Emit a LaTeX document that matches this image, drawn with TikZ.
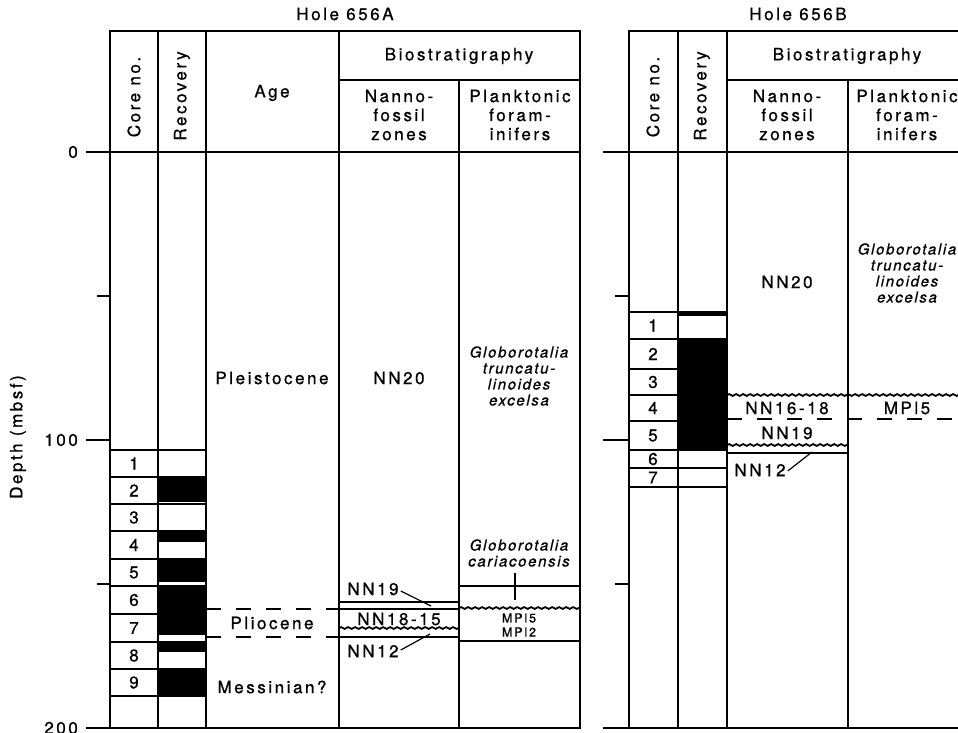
\documentclass[tikz,border=0pt]{standalone}
\usepackage{fontspec}
\setmainfont{TeX Gyre Heros}[LetterSpace=15, FakeBold=0.8]
\usetikzlibrary{decorations.pathmorphing}
\begin{document}
\begin{tikzpicture}[x=1pt,y=-1pt,
  frame/.style={line width=1.9pt},
  inner/.style={line width=1.6pt},
  lbl/.style={font=\fontsize{17}{19}\selectfont, inner sep=0pt, align=center},
  small/.style={font=\fontsize{12.5}{14}\selectfont, inner sep=0pt, align=center},
  itl/.style={font=\fontsize{15}{16}\selectfont\itshape\addfontfeatures{LetterSpace=11}, inner sep=0pt, align=center},
  wavy/.style={line width=1.8pt, decorate, decoration={snake, amplitude=0.9pt, segment length=7pt}},
  dashln/.style={line width=1.6pt, dash pattern=on 15pt off 15pt},
  blk/.style={fill=black, draw=none},
  ptr/.style={line width=1.2pt}]
\useasboundingbox (0,0) rectangle (958,733);
\fill[white] (0,0) rectangle (958,733);

% ---------- axis ----------
\draw[inner] (86,152) -- (110,152);
\draw[inner] (97,296) -- (110,296);
\draw[inner] (86,440) -- (110,440);
\draw[inner] (97,584) -- (110,584);
\draw[inner] (86,728) -- (110,728);
\node[lbl, anchor=east] (t0) at (78,152) {0};
\node[lbl, anchor=east] (t100) at (78,440) {100};
\node[lbl, anchor=east] (t200) at (78,728) {200};
\node[lbl, rotate=90] (depth) at (18,437) {Depth (mbsf)};

% ---------- Hole 656A ----------
\node[lbl] (holeA) at (345,14) {Hole 656A};
% recovery fills
\fill[blk] (158,477) rectangle (206,502);
\fill[blk] (158,531) rectangle (206,542);
\fill[blk] (158,559) rectangle (206,582);
\fill[blk] (158,586) rectangle (206,635);
\fill[blk] (158,642) rectangle (206,652);
\fill[blk] (158,669) rectangle (206,696);
% core boundaries
\foreach \yy in {450,477,504,531,559,586,614,642,669,696}
  \draw[inner] (110,\yy) -- (206,\yy);
% frame
\draw[frame] (110,31) rectangle (580,728);
\foreach \xx in {158,206,339}
  \draw[frame] (\xx,31) -- (\xx,728);
\draw[frame] (459,80) -- (459,728);
\draw[frame] (110,152) -- (580,152);
\draw[frame] (339,80) -- (580,80);
% headers
\node[lbl, rotate=90] (coreA) at (134,97) {Core no.};
\node[lbl, rotate=90] (recA) at (182,96) {Recovery};
\node[lbl] (ageA) at (272,93) {Age};
\node[lbl] (bioA) at (459,56) {Biostratigraphy};
\node[lbl] (nanA) at (399,115) {Nanno-\\fossil\\zones};
\node[lbl] (plaA) at (520,115) {Planktonic\\foram-\\inifers};
% core numbers
\node[lbl] (cA1) at (134,463.5) {1};
\node[lbl] (cA2) at (134,490.5) {2};
\node[lbl] (cA3) at (134,517.5) {3};
\node[lbl] (cA4) at (134,545) {4};
\node[lbl] (cA5) at (134,572.5) {5};
\node[lbl] (cA6) at (134,600) {6};
\node[lbl] (cA7) at (134,628) {7};
\node[lbl] (cA8) at (134,655.5) {8};
\node[lbl] (cA9) at (134,682.5) {9};
% age
\node[lbl] (pleist) at (272,378) {Pleistocene};
\node[lbl] (plio) at (272,623) {Pliocene};
\node[lbl] (mess) at (272,687) {Messinian?};
\draw[dashln] (206,609) -- (339,609);
\draw[dashln] (206,637) -- (339,637);
% nannofossils
\node[lbl] (nn20A) at (399,378) {NN20};
\draw[inner] (339,602) -- (459,602);
\draw[inner] (339,609) -- (459,609);
\draw[wavy] (339,628) -- (459,628);
\draw[inner] (339,637) -- (459,637);
\node[lbl] (nn1915) at (399,619) {NN18-15};
\node[lbl] (nn19A) at (373,589) {NN19};
\node[lbl] (nn12A) at (373,651) {NN12};
\coordinate (p19) at (431,606);
\coordinate (p12) at (430,634);
\draw[ptr] (nn19A.east) ++(2,2) -- (p19);
\draw[ptr] (nn12A.east) ++(2,-1) -- (p12);
% planktonic
\node[itl] (gtA) at (519,376) {Globorotalia\\truncatu-\\linoides\\excelsa};
\node[itl] (gcA) at (519,553) {Globorotalia\\cariacoensis};
\draw[inner] (459,586) -- (580,586);
\draw[wavy] (459,608) -- (580,608);
\draw[inner] (459,641) -- (580,641);
\coordinate (pg) at (515,600);
\draw[ptr] (515,573) -- (pg);
\node[small] (mpl5A) at (519,618) {MPl5};
\node[small] (mpl2A) at (519,632) {MPl2};

% ---------- Hole 656B ----------
\node[lbl] (holeB) at (798,14) {Hole 656B};
\draw[inner] (603,152) -- (629,152);
\draw[inner] (615,296) -- (629,296);
\draw[inner] (603,440) -- (629,440);
\draw[inner] (615,584) -- (629,584);
\draw[inner] (603,728) -- (629,728);
\fill[blk] (678,310.5) rectangle (727,315.5);
\fill[blk] (678,338) rectangle (727,450);
\foreach \yy in {312,339,369,395,421,450,468,487}
  \draw[inner] (629,\yy) -- (727,\yy);
\draw[frame] (629,31) rectangle (968,728);
\foreach \xx in {678,727}
  \draw[frame] (\xx,31) -- (\xx,728);
\draw[frame] (848,80) -- (848,728);
\draw[frame] (629,152) -- (968,152);
\draw[frame] (727,80) -- (968,80);
\node[lbl, rotate=90] (coreB) at (653,97) {Core no.};
\node[lbl, rotate=90] (recB) at (702,96) {Recovery};
\node[lbl] (bioB) at (847,56) {Biostratigraphy};
\node[lbl] (nanB) at (787,115) {Nanno-\\fossil\\zones};
\node[lbl] (plaB) at (907,115) {Planktonic\\foram-\\inifers};
\node[lbl] (cB1) at (653,325.5) {1};
\node[lbl] (cB2) at (653,354) {2};
\node[lbl] (cB3) at (653,382) {3};
\node[lbl] (cB4) at (653,408) {4};
\node[lbl] (cB5) at (653,435.5) {5};
\node[lbl] (cB6) at (653,459) {6};
\node[lbl] (cB7) at (653,477.5) {7};
\node[lbl] (nn20B) at (787,282) {NN20};
\draw[wavy] (727,395) -- (968,395);
\draw[dashln] (727,419) -- (968,419);
\node[lbl] (nn1618) at (787,408) {NN16-18};
\node[lbl] (nn19B) at (787,433) {NN19};
\draw[wavy] (727,445) -- (848,445);
\draw[inner] (727,453) -- (848,453);
\node[lbl] (nn12B) at (760,470) {NN12};
\coordinate (q12) at (812,452);
\draw[ptr] (nn12B.east) ++(2,1) -- (q12);
\node[itl] (gtB) at (907,273) {Globorotalia\\truncatu-\\linoides\\excelsa};
\node[lbl] (mpl5B) at (907,408) {MPl5};
\end{tikzpicture}
\end{document}
